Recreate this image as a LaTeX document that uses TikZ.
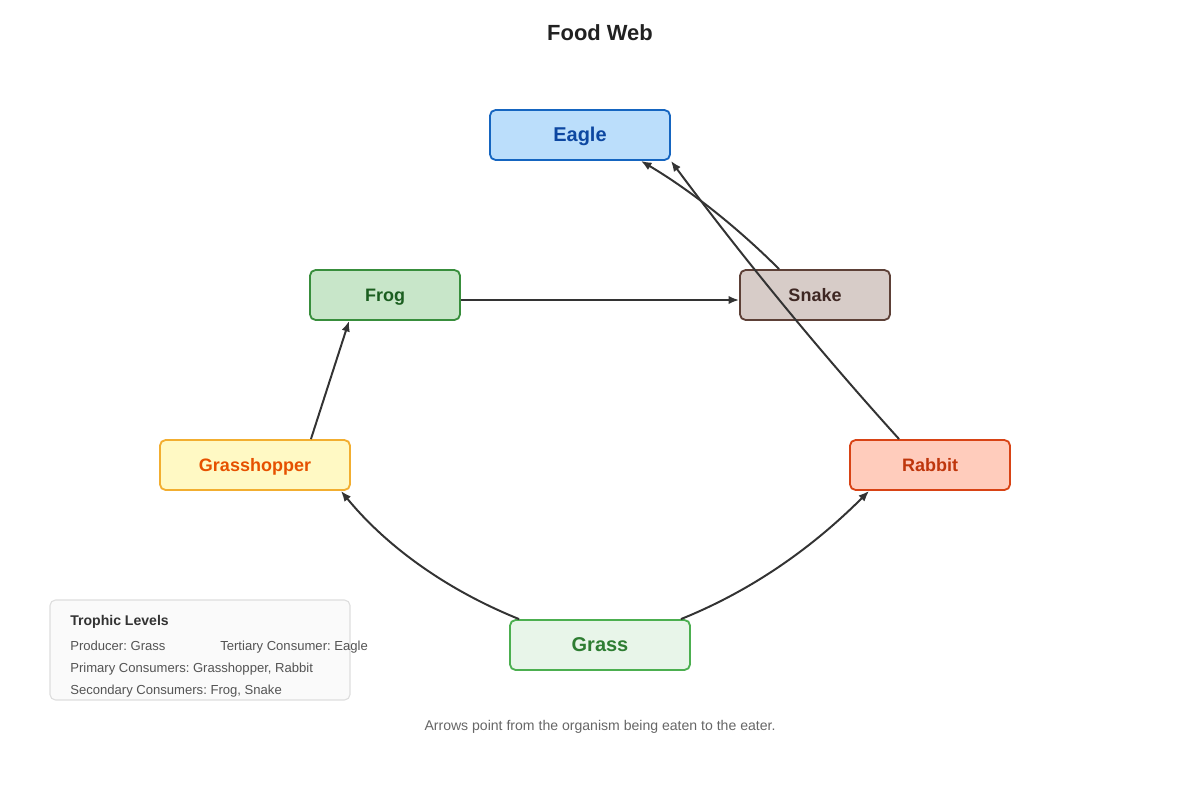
\documentclass[tikz,border=0pt]{standalone}
\usepackage{fontspec}
\setmainfont{Liberation Sans}
\usetikzlibrary{calc,arrows.meta}
\frenchspacing

\definecolor{eaglefill}{HTML}{BBDEFB}\definecolor{eagledraw}{HTML}{1565C0}\definecolor{eagletext}{HTML}{0D47A1}
\definecolor{frogfill}{HTML}{C8E6C9}\definecolor{frogdraw}{HTML}{388E3C}\definecolor{frogtext}{HTML}{1B5E20}
\definecolor{snakefill}{HTML}{D7CCC8}\definecolor{snakedraw}{HTML}{5D4037}\definecolor{snaketext}{HTML}{3E2723}
\definecolor{hopperfill}{HTML}{FFF9C4}\definecolor{hopperdraw}{HTML}{F2AE30}\definecolor{hoppertext}{HTML}{E65100}
\definecolor{rabbitfill}{HTML}{FFCCBC}\definecolor{rabbitdraw}{HTML}{D84315}\definecolor{rabbittext}{HTML}{BF360C}
\definecolor{grassfill}{HTML}{E8F5E9}\definecolor{grassdraw}{HTML}{4CAF50}\definecolor{grasstext}{HTML}{2E7D32}
\definecolor{eats}{HTML}{333333}

\tikzset{
  organism/.style={draw, line width=1.3pt, rounded corners=4pt, minimum height=1.25cm,
    inner sep=0pt, text height=9.5pt, text depth=0pt, font=\bfseries\fontsize{12.8}{14}\selectfont},
  eats/.style={draw=eats, line width=1.4pt, -{Latex[length=7.5pt,width=6pt]}},
  legendtext/.style={anchor=base west, inner sep=0pt, font=\fontsize{9.3}{11}\selectfont, text=black!67},
}

\begin{document}
\begin{tikzpicture}[x=0.025cm,y=-0.025cm]
\useasboundingbox (0,0) rectangle (1200,800);
\node[font=\bfseries\fontsize{15.6}{18}\selectfont, text=black!87] (title) at (600,33) {Food Web};
%organisms
\node[organism, fill=eaglefill, draw=eagledraw, text=eagletext, minimum width=4.5cm,
  font=\bfseries\fontsize{14.2}{16}\selectfont] (eagle) at (580,135) {Eagle};
\node[organism, fill=frogfill, draw=frogdraw, text=frogtext, minimum width=3.75cm] (frog) at (385,295) {Frog};
\node[organism, fill=snakefill, draw=snakedraw, text=snaketext, minimum width=3.75cm] (snake) at (815,295) {Snake};
\node[organism, fill=hopperfill, draw=hopperdraw, text=hoppertext, minimum width=4.75cm] (hopper) at (255,465) {Grasshopper};
\node[organism, fill=rabbitfill, draw=rabbitdraw, text=rabbittext, minimum width=4cm] (rabbit) at (930,465) {Rabbit};
\node[organism, fill=grassfill, draw=grassdraw, text=grasstext, minimum width=4.5cm,
  font=\bfseries\fontsize{14.2}{16}\selectfont] (grass) at (600,645) {Grass};
%who eats whom
\draw[eats] ($(grass.north west)+(10,0)$) .. controls (447,590) and (387,547) .. ($(hopper.south east)+(-10,0)$);
\draw[eats] ($(grass.north east)+(-10,0)$) .. controls (753,590) and (813,547) .. ($(rabbit.south west)+(20,0)$);
\draw[eats] ($(hopper.north east)+(-40,0)$) -- ($(frog.south west)+(40,0)$);
\draw[eats] ($(frog.east)+(0,5)$) -- ($(snake.west)+(0,5)$);
\draw[eats] ($(snake.north west)+(40,0)$) .. controls (737,227) and (690,190) .. ($(eagle.south east)+(-30,0)$);
\draw[eats] ($(rabbit.north west)+(50,0)$) .. controls (823,355) and (746,262) .. (eagle.south east);
%legend
\node[draw=black!13, fill=black!2, line width=0.8pt, rounded corners=4pt, minimum width=7.5cm,
  minimum height=2.5cm] (legend) at (200,650) {};
\node[legendtext, font=\bfseries\fontsize{10}{12}\selectfont, text=eats] (levels) at (70,625) {Trophic Levels};
\node[legendtext] (producer) at (70,650) {Producer: Grass};
\node[legendtext] (tertiary) at (220,650) {Tertiary Consumer: Eagle};
\node[legendtext] (primary) at (70,672) {Primary Consumers: Grasshopper, Rabbit};
\node[legendtext] (secondary) at (70,694) {Secondary Consumers: Frog, Snake};
\node[anchor=base, font=\fontsize{10}{12}\selectfont, text=black!60] (note) at (600,730) {Arrows point from the organism being eaten to the eater.};
\end{tikzpicture}
\end{document}
